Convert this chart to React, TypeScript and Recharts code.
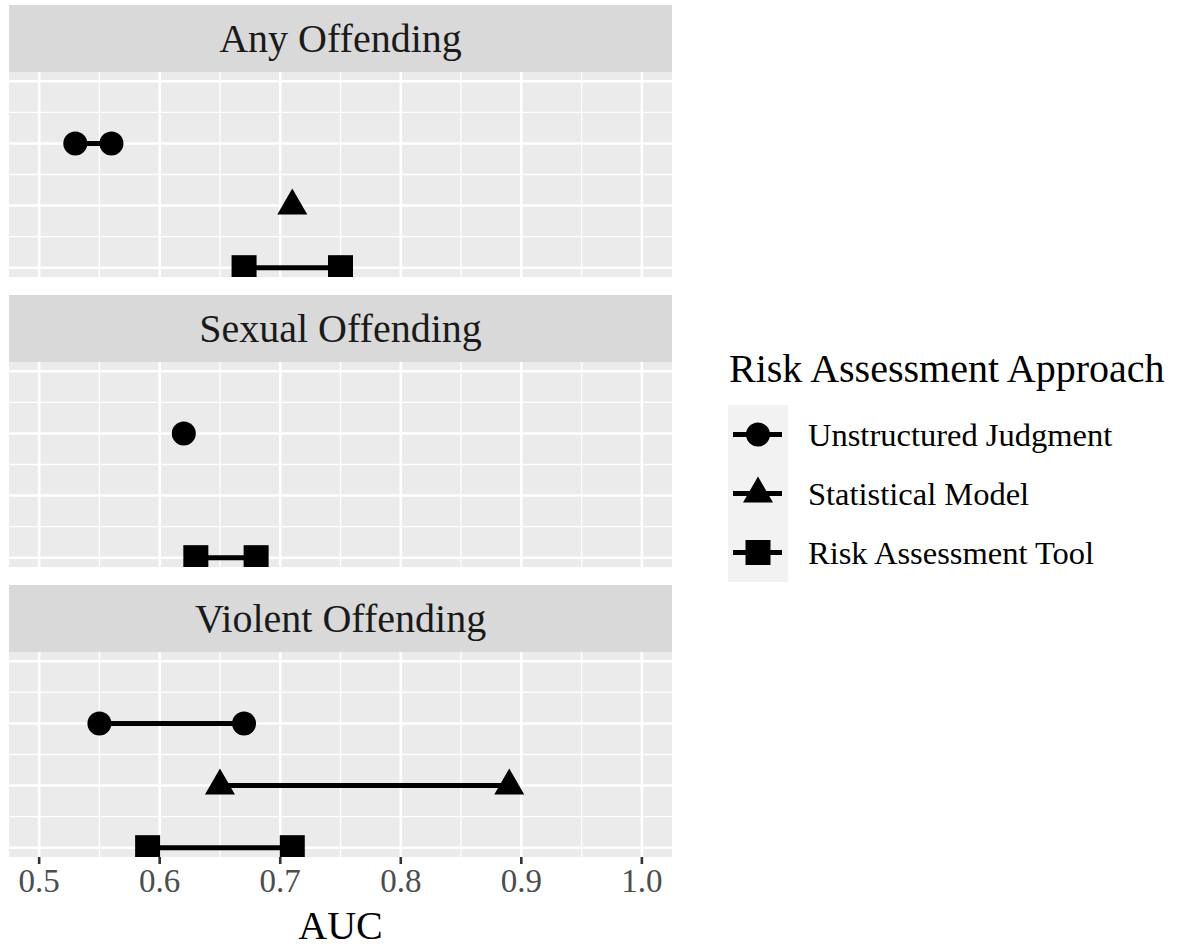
import React from 'react';
import { ComposedChart, Scatter, XAxis, YAxis, CartesianGrid } from 'recharts';

// facet panels and legend entries
const panels = ['Any Offending', 'Sexual Offending', 'Violent Offending'];
const approaches = ['Unstructured Judgment', 'Statistical Model', 'Risk Assessment Tool'];
const approachLevel = [3, 2, 1];

// AUC ranges per panel (low / high, single value when only one estimate)
const judgmentAuc = [[0.53, 0.56], [0.62], [0.55, 0.67]];
const modelAuc = [[0.71], [], [0.65, 0.89]];
const toolAuc = [[0.67, 0.75], [0.63, 0.68], [0.59, 0.71]];

const xTicks = [0.5, 0.6, 0.7, 0.8, 0.9, 1.0];
const xMinor = [0.55, 0.65, 0.75, 0.85, 0.95];
const yMajor = [1, 2, 3, 4];
const yMinor = [1.5, 2.5, 3.5];

const FONT = '"Liberation Serif", "Times New Roman", serif';

const CircleMark = (p: any) => <circle cx={p.cx} cy={p.cy} r={12} fill="#000" />;
const TriMark = (p: any) => (
  <polygon points={`${p.cx},${p.cy - 17} ${p.cx + 15},${p.cy + 9} ${p.cx - 15},${p.cy + 9}`} fill="#000" />
);
const SquareMark = (p: any) => <rect x={p.cx - 12.5} y={p.cy - 12.5} width={25} height={25} fill="#000" />;

const seriesDefs = [
  { name: approaches[0], level: approachLevel[0], values: judgmentAuc, shape: CircleMark },
  { name: approaches[1], level: approachLevel[1], values: modelAuc, shape: TriMark },
  { name: approaches[2], level: approachLevel[2], values: toolAuc, shape: SquareMark },
];

const stripTops = [5, 295, 585];
const PANEL_LEFT = 9;
const PANEL_W = 663;
const STRIP_H = 67;
const PLOT_H = 205;
const AXIS_H = 92;

const Panel = ({ idx }: { idx: number }) => {
  const last = idx === panels.length - 1;
  const top = stripTops[idx];
  return (
    <>
      <div
        style={{
          position: 'absolute', left: PANEL_LEFT, top, width: PANEL_W, height: STRIP_H,
          background: '#D9D9D9', display: 'flex', alignItems: 'center', justifyContent: 'center',
          fontFamily: FONT, fontSize: 40, color: '#1A1A1A',
        }}
      >
        {panels[idx]}
      </div>
      <div style={{ position: 'absolute', left: PANEL_LEFT, top: top + STRIP_H }}>
        <ComposedChart
          width={PANEL_W}
          height={last ? PLOT_H + AXIS_H : PLOT_H}
          margin={{ top: 0, right: 0, bottom: 0, left: 0 }}
        >
          <CartesianGrid
            fill="#EBEBEB"
            stroke="#FFFFFF"
            strokeWidth={1.3}
            verticalValues={xMinor}
            horizontalValues={yMinor}
          />
          <CartesianGrid
            stroke="#FFFFFF"
            strokeWidth={2.6}
            verticalValues={xTicks}
            horizontalValues={yMajor}
          />
          <XAxis
            type="number"
            dataKey="auc"
            domain={[0.475, 1.025]}
            ticks={xTicks}
            allowDataOverflow
            hide={!last}
            height={AXIS_H}
            axisLine={false}
            tickSize={7}
            tickMargin={5}
            tickLine={{ stroke: '#333333', strokeWidth: 2.6 }}
            tick={{ fontFamily: FONT, fontSize: 33, fill: '#4D4D4D' }}
            tickFormatter={(v: number) => v.toFixed(1)}
            label={{ value: 'AUC', position: 'insideBottom', offset: 10, style: { fontFamily: FONT, fontSize: 40, fill: '#000' } }}
          />
          <YAxis type="number" dataKey="level" domain={[0.85, 4.15]} allowDataOverflow hide />
          {seriesDefs.map((s) =>
            s.values[idx].length ? (
              <Scatter
                key={s.name}
                name={s.name}
                data={s.values[idx].map((v) => ({ auc: v, level: s.level }))}
                fill="#000"
                line={{ stroke: '#000', strokeWidth: 5 }}
                shape={s.shape}
                isAnimationActive={false}
              />
            ) : null
          )}
        </ComposedChart>
      </div>
    </>
  );
};

const Legend = () => {
  const keyTop = 65;
  const keyH = 59;
  return (
    <svg width={460} height={260} style={{ position: 'absolute', left: 720, top: 340 }}>
      <text x={9} y={42} fontFamily={FONT} fontSize={40} fill="#000">Risk Assessment Approach</text>
      <rect x={8} y={keyTop} width={60} height={keyH * 3} fill="#F2F2F2" />
      {seriesDefs.map((s, i) => {
        const cy = keyTop + keyH * i + keyH / 2;
        const Mark = s.shape;
        return (
          <g key={s.name}>
            <line x1={13} x2={62} y1={cy} y2={cy} stroke="#000" strokeWidth={5} />
            <Mark cx={38} cy={cy} />
            <text x={88} y={cy + 11} fontFamily={FONT} fontSize={32.5} fill="#000">{s.name}</text>
          </g>
        );
      })}
    </svg>
  );
};

export default function App() {
  return (
    <div style={{ position: 'absolute', left: 0, top: 0, width: 1180, height: 949, background: '#fff' }}>
      {panels.map((_, i) => (
        <Panel key={i} idx={i} />
      ))}
      <Legend />
    </div>
  );
}
